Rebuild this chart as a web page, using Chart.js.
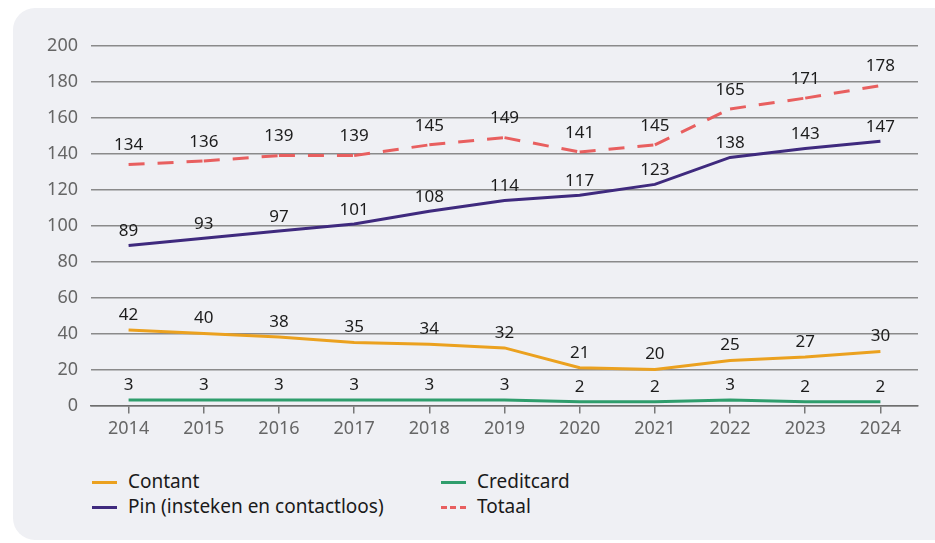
<!DOCTYPE html>
<html>
<head>
<meta charset="utf-8">
<script src="https://cdn.jsdelivr.net/npm/chart.js@4/dist/chart.umd.min.js"></script>
<style>
  html, body { margin: 0; padding: 0; background: #ffffff; width: 935px; height: 543px; overflow: hidden; }
  #panel { position: absolute; left: 13px; top: 8px; width: 960px; height: 532px; background: #eff0f4; border-radius: 22px; }
  #c { position: absolute; left: 0; top: 0; }
  .lg { position: absolute; font-family: "Noto Sans", sans-serif; font-size: 19px; color: #1a1a1a; line-height: 24px; white-space: nowrap; }
  .sw { position: absolute; width: 25px; height: 0; }
</style>
</head>
<body>
<div id="panel"></div>
<canvas id="c" width="935" height="450"></canvas>
<div id="legend"></div>
<script>
const years = ['2014','2015','2016','2017','2018','2019','2020','2021','2022','2023','2024'];
const contant    = [42, 40, 38, 35, 34, 32, 21, 20, 25, 27, 30];
const pin        = [89, 93, 97, 101, 108, 114, 117, 123, 138, 143, 147];
const creditcard = [3, 3, 3, 3, 3, 3, 2, 2, 3, 2, 2];
const totaal     = [134, 136, 139, 139, 145, 149, 141, 145, 165, 171, 178];
const yTicks     = [0, 20, 40, 60, 80, 100, 120, 140, 160, 180, 200];

const seriesNames = ['Contant', 'Pin (insteken en contactloos)', 'Creditcard', 'Totaal'];
const colors = { contant: '#eba11f', pin: '#3f2a7e', credit: '#2f9d6c', totaal: '#e85f5f' };

const labelPlugin = {
  id: 'valueLabels',
  afterDatasetsDraw(chart) {
    const ctx = chart.ctx;
    ctx.save();
    ctx.font = '17px "Noto Sans", sans-serif';
    ctx.fillStyle = '#1c1c1c';
    ctx.textAlign = 'center';
    ctx.textBaseline = 'middle';
    chart.data.datasets.forEach((ds, i) => {
      const meta = chart.getDatasetMeta(i);
      const off = ds.labelOffset || 15;
      meta.data.forEach((pt, j) => {
        ctx.fillText(String(ds.data[j]), pt.x, pt.y - off);
      });
    });
    ctx.restore();
  }
};

const ds = (label, data, color, extra) => Object.assign({
  label, data, borderColor: color, backgroundColor: color,
  borderWidth: 3, pointRadius: 0, pointHoverRadius: 0, tension: 0, fill: false
}, extra || {});

const chart = new Chart(document.getElementById('c'), {
  type: 'line',
  data: {
    labels: years,
    datasets: [
      ds(seriesNames[0], contant, colors.contant, { labelOffset: 15 }),
      ds(seriesNames[1], pin, colors.pin, { labelOffset: 14 }),
      ds(seriesNames[2], creditcard, colors.credit, { labelOffset: 15 }),
      ds(seriesNames[3], totaal, colors.totaal, {
        labelOffset: 19,
        borderDash: [16, 13],
        segment: { borderDashOffset: c => (c.p0DataIndex % 2 ? 0.0001 : 0) }
      })
    ]
  },
  options: {
    responsive: false,
    maintainAspectRatio: false,
    devicePixelRatio: 1,
    animation: false,
    layout: { padding: { left: 0, right: 17, top: 46, bottom: 5 } },
    plugins: { legend: { display: false }, tooltip: { enabled: false } },
    scales: {
      x: {
        type: 'category',
        offset: true,
        grid: { drawOnChartArea: false, drawTicks: true, tickLength: 8, color: '#777777', lineWidth: 1.5 },
        border: { display: true, color: '#6e6e6e', width: 1.5 },
        ticks: { color: '#666666', font: { family: 'Noto Sans', size: 18 }, padding: 5, maxRotation: 0 }
      },
      y: {
        min: 0, max: 200,
        afterFit: s => { s.width = 91; },
        afterBuildTicks: s => { s.ticks = yTicks.map(v => ({ value: v })); },
        grid: { drawTicks: false, color: '#8a8a8a', lineWidth: 1.5 },
        border: { display: false },
        ticks: { color: '#666666', font: { family: 'Noto Sans', size: 18 }, padding: 13 }
      }
    }
  },
  plugins: [labelPlugin]
});

// HTML legend built from the datasets (two columns)
const legend = document.getElementById('legend');
const positions = [[92, 482], [92, 507], [441, 482], [441, 507]];
chart.data.datasets.forEach((d, i) => {
  const [x, y] = positions[i];
  const sw = document.createElement('div');
  sw.className = 'sw';
  sw.style.left = x + 'px';
  sw.style.top = (y - 1.5) + 'px';
  sw.style.borderTop = '3px solid ' + d.borderColor;
  if (d.borderDash) {
    sw.style.borderTop = 'none';
    sw.style.height = '3px';
    sw.style.background = 'repeating-linear-gradient(90deg,' + d.borderColor + ' 0 6px, transparent 6px 9.5px)';
  }
  legend.appendChild(sw);
  const t = document.createElement('div');
  t.className = 'lg';
  t.style.left = (x + 36) + 'px';
  t.style.top = (y - 13) + 'px';
  t.textContent = d.label;
  legend.appendChild(t);
});
</script>
</body>
</html>
